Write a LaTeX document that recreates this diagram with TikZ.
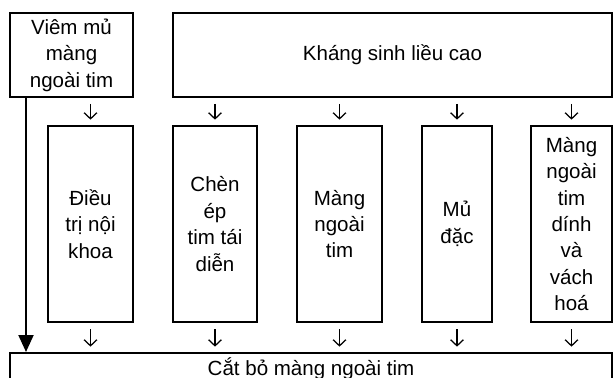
\documentclass[tikz,border=0pt]{standalone}
\usepackage{fontspec}
\setmainfont{Liberation Sans}
\usetikzlibrary{arrows.meta}

\begin{document}
\begin{tikzpicture}[x=0.75pt, y=-0.75pt,
  box/.style={draw, line width=1.5pt, inner sep=0pt, align=center,
    font=\fontsize{15.4pt}{19.8pt}\selectfont},
  colbox/.style={box, minimum height=147pt},
  smallarrow/.style={line width=0.95pt, -{Straight Barb[length=4.5pt,width=9.5pt]},
    shorten <=4.5pt, shorten >=4pt},
  bigarrow/.style={line width=1.5pt, -{Triangle[length=12.75pt,width=11.25pt]}}]

\useasboundingbox (0,0) rectangle (615,378);
\clip (0,0) rectangle (615,378);

% top row
\node[box, minimum width=92.25pt, minimum height=63pt] (vm) at (71.5,55)
  {Viêm mủ\\màng\\ngoài tim};
\node[box, minimum width=329.25pt, minimum height=63pt] (ks) at (392.5,55)
  {Kháng sinh liều cao};

% middle column of options
\node[colbox, minimum width=63.75pt] (c1) at (90.5,224) {Điều\\trị nội\\khoa};
\node[colbox, minimum width=63pt]    (c2) at (215,224)  {Chèn\\ép\\tim tái\\diễn};
\node[colbox, minimum width=63.75pt] (c3) at (339.5,224) {Màng\\ngoài\\tim};
\node[colbox, minimum width=52.5pt]  (c4) at (457,224)  {Mủ\\đặc};
\node[colbox, minimum width=60.75pt] (c5) at (571.5,224)
  {Màng\\ngoài\\tim\\dính\\và\\vách\\hoá};

% bottom box
\node[box, anchor=north, minimum width=451.5pt, text height=16.5pt, text depth=15pt]
  (cut) at (311,352) {Cắt bỏ màng ngoài tim};

% arrows into the columns
\draw[smallarrow] (vm.south -| c1.north) -- (c1.north);
\foreach \c in {c2,c3,c4,c5}
  \draw[smallarrow] (ks.south -| \c.north) -- (\c.north);

% arrows out of the columns
\foreach \c in {c1,c2,c3,c4,c5}
  \draw[smallarrow] (\c.south) -- (cut.north -| \c.south);

% direct route to surgery
\coordinate (lx) at (26,0);
\draw[bigarrow] (vm.south -| lx) -- (cut.north -| lx);

\end{tikzpicture}
\end{document}
